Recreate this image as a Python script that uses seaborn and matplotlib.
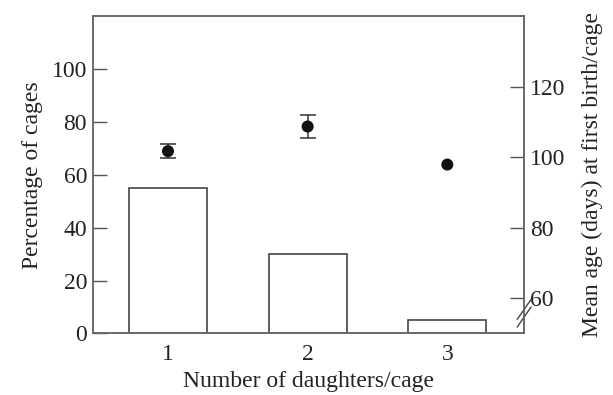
import numpy as np
import pandas as pd
import matplotlib
matplotlib.use("Agg")
import matplotlib.pyplot as plt
import seaborn as sns

# Data
daughters = ["1", "2", "3"]
pct_cages = [55, 30, 5]
mean_age = [101.7, 108.7, 97.9]
age_err = [1.9, 3.3, np.nan]   # no visible error bar for 3 daughters

sns.set_style("ticks")
plt.rcParams["font.family"] = ["Liberation Serif", "DejaVu Serif"]
plt.rcParams["font.size"] = 17

df = pd.DataFrame({"daughters": daughters, "pct": pct_cages})

fig = plt.figure(figsize=(6.13, 3.95), dpi=100)
ax = fig.add_axes([0.151, 0.156, 0.704, 0.803])

sns.barplot(data=df, x="daughters", y="pct", ax=ax, color="white",
            edgecolor="#444444", linewidth=1.2, width=0.56)
ax.set_xlim(-0.54, 2.55)
ax.set_ylim(0, 120)
ax.set_yticks([0, 20, 40, 60, 80, 100])
ax.set_xlabel("Number of daughters/cage", fontsize=17, color="#222222", labelpad=4)
ax.set_ylabel("Percentage of cages", fontsize=17, color="#222222", labelpad=6)
ax.tick_params(axis="y", direction="in", length=10, width=1, color="#555555",
               labelsize=17, labelcolor="#222222", pad=4)
ax.tick_params(axis="x", length=0, labelsize=17, labelcolor="#222222", pad=8)
for s in ax.spines.values():
    s.set_color("#666666")
    s.set_linewidth(1.1)

ax2 = ax.twinx()
x_pos = np.arange(len(daughters))
ax2.errorbar(x_pos, mean_age, yerr=age_err, fmt="none", ecolor="#333333",
             elinewidth=1.1, capsize=6, capthick=1.1, zorder=3)
sns.scatterplot(x=x_pos, y=mean_age, ax=ax2, color="#111111", s=75,
                edgecolor="none", zorder=4)
ax2.set_ylim(50, 140)
ax2.set_yticks([60, 80, 100, 120])
ax2.set_ylabel("Mean age (days) at first birth/cage", fontsize=17,
               color="#222222", labelpad=12)
ax2.tick_params(axis="y", direction="in", length=10, width=1, color="#555555",
                labelsize=17, labelcolor="#222222", pad=4)
for s in ax2.spines.values():
    s.set_color("#666666")
    s.set_linewidth(1.1)

# axis break marks on right spine
for off in (-0.012, 0.012):
    ax2.plot([1 - 0.016, 1 + 0.016], [0.032 + off, 0.095 + off],
             transform=ax2.transAxes, color="#444444", lw=1.0, clip_on=False)

fig.savefig("out.png", dpi=100)
